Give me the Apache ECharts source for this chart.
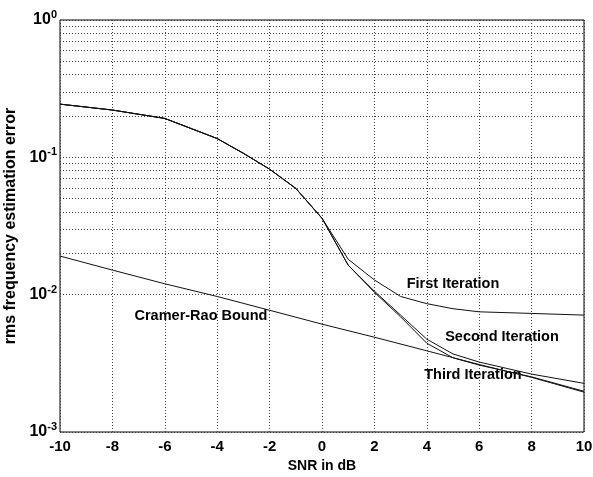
<!DOCTYPE html>
<html>
<head>
<meta charset="utf-8">
<script src="https://cdn.jsdelivr.net/npm/echarts@6/dist/echarts.min.js"></script>
<style>html,body{margin:0;padding:0;background:#fff}#c{width:593px;height:477px}</style>
</head>
<body>
<div id="c"></div>
<script>
// ---- data ----
const snr = [-10, -8, -6, -4, -3, -2, -1, 0, 1, 2, 3, 4, 5, 6, 8, 10];
const firstIter  = [0.244, 0.221, 0.192, 0.137, 0.107, 0.082, 0.0594, 0.036, 0.0181, 0.0128, 0.0097, 0.0086, 0.0079, 0.0075, 0.0073, 0.0071];
const secondIter = [0.244, 0.221, 0.192, 0.137, 0.107, 0.082, 0.0594, 0.036, 0.0164, 0.0106, 0.0071, 0.00474, 0.0037, 0.00323, 0.00264, 0.00226];
const thirdIter  = [0.244, 0.221, 0.192, 0.137, 0.107, 0.082, 0.0594, 0.036, 0.0164, 0.0104, 0.0069, 0.00443, 0.00347, 0.00307, 0.00252, 0.00198];
const crbSnr = [-10, -8, -6, -4, -2, 0, 2, 4, 6, 8, 10];
const crb = [0.0191, 0.0151, 0.0120, 0.0097, 0.0077, 0.0061, 0.0049, 0.0039, 0.0031, 0.0025, 0.00195];
const xTicks = [-10, -8, -6, -4, -2, 0, 2, 4, 6, 8, 10];
const yDecades = [0.001, 0.01, 0.1, 1];
const minorMultipliers = [2, 3, 4, 5, 6, 7, 8, 9];
const annotations = [
  {text: 'First Iteration', x: 5.0, y: 0.0119},
  {text: 'Second Iteration', x: 6.87, y: 0.00491},
  {text: 'Third Iteration', x: 5.76, y: 0.0026},
  {text: 'Cramer-Rao Bound', x: -4.62, y: 0.00698}
];
const xName = 'SNR in dB';
const yName = 'rms frequency estimation error';

// ---- build ----
const font = '"Liberation Sans", Arial, sans-serif';
const pair = (xs, ys) => xs.map((x, i) => [x, ys[i]]);
const minorGrid = [];
yDecades.slice(0, -1).forEach(d => minorMultipliers.forEach(m => minorGrid.push({yAxis: +(d * m).toPrecision(3)})));

const lineSeries = (name, xs, ys) => ({
  name, type: 'line', data: pair(xs, ys), showSymbol: false, symbol: 'none',
  lineStyle: {color: '#111', width: 1}, silent: true, animation: false, z: 5
});

const chart = echarts.init(document.getElementById('c'), null, {renderer: 'canvas'});
chart.setOption({
  animation: false,
  backgroundColor: '#fff',
  grid: {left: 60, right: 9, top: 20, bottom: 45, containLabel: false, outerBoundsMode: 'none',
         show: true, borderColor: '#000', borderWidth: 1, backgroundColor: 'transparent'},
  xAxis: {
    type: 'value', min: xTicks[0], max: xTicks[xTicks.length - 1], interval: 2,
    name: xName, nameLocation: 'middle', nameGap: 27,
    nameTextStyle: {fontFamily: font, fontSize: 14, fontWeight: 'bold', color: '#000'},
    axisLine: {show: false}, axisTick: {show: false},
    axisLabel: {fontFamily: font, fontSize: 15, fontWeight: 'bold', color: '#000', margin: 7},
    splitLine: {show: true, lineStyle: {color: '#444', type: [1, 2], width: 1}}
  },
  yAxis: {
    type: 'log', logBase: 10, min: yDecades[0], max: yDecades[yDecades.length - 1],
    name: yName, nameLocation: 'middle', nameGap: 39,
    nameTextStyle: {fontFamily: font, fontSize: 16, fontWeight: 'bold', color: '#000'},
    axisLine: {show: false}, axisTick: {show: false},
    axisLabel: {
      margin: 3,
      formatter: v => '{b|10}{s|' + Math.round(Math.log10(v)) + '}',
      rich: {
        b: {fontFamily: font, fontSize: 16, fontWeight: 'bold', color: '#000'},
        s: {fontFamily: font, fontSize: 11, fontWeight: 'bold', color: '#000', padding: [0, 0, 10, 0]}
      }
    },
    splitLine: {show: true, lineStyle: {color: '#444', type: [1, 2], width: 1}}
  },
  series: [
    {
      type: 'line', data: [], silent: true,
      markLine: {
        silent: true, symbol: 'none', label: {show: false}, animation: false,
        lineStyle: {color: '#444', type: [1, 2], width: 1},
        data: minorGrid
      }
    },
    lineSeries('First Iteration', snr, firstIter),
    lineSeries('Second Iteration', snr, secondIter),
    lineSeries('Third Iteration', snr, thirdIter),
    Object.assign(lineSeries('Cramer-Rao Bound', crbSnr, crb), {
      markPoint: {
        silent: true, symbol: 'circle', symbolSize: 1, itemStyle: {color: 'rgba(0,0,0,0)'},
        label: {show: true, position: 'inside', fontFamily: font, fontSize: 14.5, fontWeight: 'bold', color: '#000', formatter: p => p.name},
        data: annotations.map(a => ({name: a.text, coord: [a.x, a.y]}))
      }
    })
  ]
});
</script>
</body>
</html>
